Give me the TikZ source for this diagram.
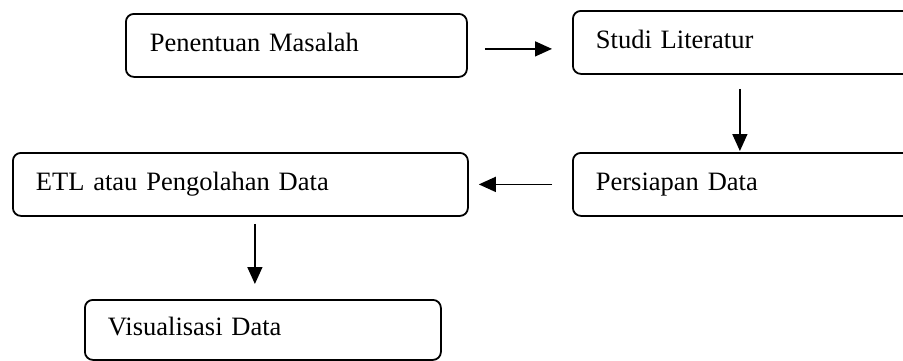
\documentclass[tikz,border=0pt]{standalone}
\usepackage{fontspec}
\setmainfont{Liberation Serif}
\usetikzlibrary{arrows.meta}
\begin{document}
\begin{tikzpicture}[x=1pt,y=-1pt,
  box/.style={draw, rounded corners=8pt, line width=1.8pt, anchor=north west,
    inner xsep=23pt, inner ysep=0pt, align=left,
    font=\fontsize{26.5}{30}\selectfont, text height=18.5pt, text depth=6.6pt},
  arr/.style={line width=1.5pt, -{Triangle[length=17pt,width=15pt]}}]
\useasboundingbox (0,0) rectangle (903,360);
\node[box, text width=293pt, minimum height=63pt, inner xsep=24pt] (b1) at (125,13) {Penentuan Masalah};
\node[box, text width=294pt, minimum height=63pt] (b2) at (572,10) {Studi Literatur};
\node[box, text width=409pt, minimum height=63pt] (b3) at (12,152) {ETL atau Pengolahan Data};
\node[box, text width=294pt, minimum height=63pt] (b4) at (572,152) {Persiapan Data};
\node[box, text width=310pt, minimum height=60pt] (b5) at (84,299) {Visualisasi Data};
\draw[arr, shorten <=17pt, shorten >=20pt] ([yshift=-3.5pt]b1.east) -- ([yshift=-3.5pt]b1.east -| b2.west);
\draw[arr, shorten <=14pt, shorten >=1pt] ([xshift=-3pt]b2.south) -- ([xshift=-3pt]b2.south |- b4.north);
\draw[arr, shorten <=20pt, shorten >=10pt] (b4.west) -- (b4.west -| b3.east);
\draw[arr, shorten <=7pt, shorten >=15pt] ([xshift=14.5pt]b3.south) -- ([xshift=14.5pt]b3.south |- b5.north);
\end{tikzpicture}
\end{document}
